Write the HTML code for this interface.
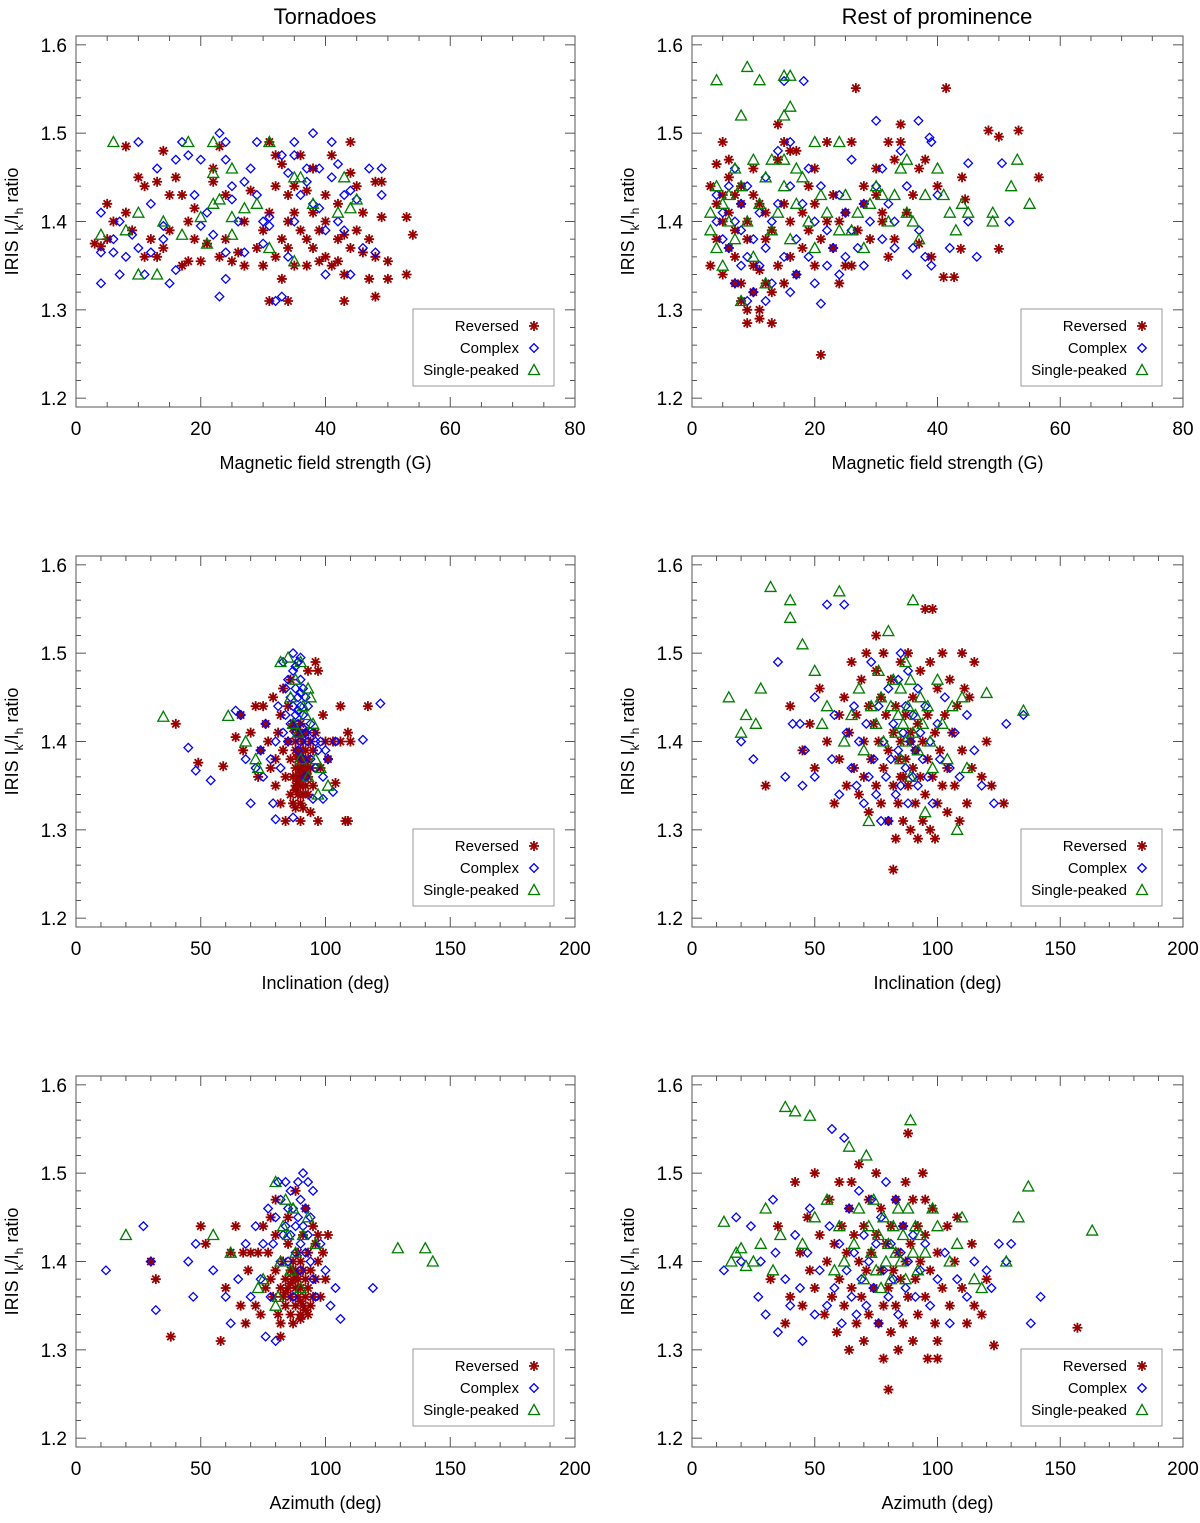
<!DOCTYPE html>
<html><head><meta charset="utf-8"><style>
html,body{margin:0;padding:0;background:#fff;}
svg{display:block;font-family:"Liberation Sans",Arial,sans-serif;}
</style></head><body>
<svg id="fig" width="1200" height="1523" viewBox="0 0 1200 1523" xmlns="http://www.w3.org/2000/svg">
<text x="325" y="24" font-size="22" text-anchor="middle">Tornadoes</text>
<text x="937" y="24" font-size="22" text-anchor="middle">Rest of prominence</text>
</svg>
<script>
const yTicks = [1.2,1.3,1.4,1.5,1.6];
const xTicksB = [0,20,40,60,80];
const xTicksA = [0,50,100,150,200];
const xTitles = ["Magnetic field strength (G)","Inclination (deg)","Azimuth (deg)"];
const legendLabels = ["Reversed","Complex","Single-peaked"];

const tBRev=[[3,1.375],[4,1.372],[5,1.38],[5,1.42],[6,1.40],[8,1.485],[8,1.41],[9,1.39],[10,1.45],[11,1.36],[11,1.44],[12,1.38],[13,1.445],[13,1.36],[14,1.48],[14,1.37],[15,1.43],[15,1.39],[16,1.45],[17,1.35],[17,1.43],[18,1.40],[18,1.355],[19,1.38],[19,1.415],[20,1.355],[21,1.375],[22,1.46],[22,1.445],[23,1.36],[23,1.485],[24,1.43],[24,1.38],[25,1.355],[26,1.365],[27,1.35],[27,1.40],[28,1.435],[29,1.37],[30,1.35],[30,1.39],[31,1.49],[31,1.31],[31,1.41],[32,1.475],[32,1.36],[32,1.44],[33,1.465],[33,1.38],[33,1.335],[34,1.43],[34,1.40],[34,1.37],[34,1.31],[35,1.44],[35,1.35],[35,1.41],[36,1.39],[36,1.475],[37,1.35],[37,1.435],[37,1.38],[38,1.37],[38,1.46],[38,1.41],[39,1.355],[39,1.39],[40,1.40],[40,1.36],[40,1.43],[41,1.475],[41,1.35],[42,1.38],[42,1.42],[42,1.355],[43,1.31],[43,1.34],[43,1.385],[44,1.49],[44,1.455],[44,1.37],[45,1.44],[45,1.39],[46,1.41],[46,1.365],[47,1.38],[47,1.335],[48,1.445],[48,1.36],[48,1.315],[49,1.405],[49,1.445],[50,1.355],[50,1.335],[53,1.405],[53,1.34],[54,1.385]];
const tBCom=[[4,1.41],[4,1.365],[4,1.33],[6,1.365],[6,1.38],[7,1.34],[7,1.40],[8,1.36],[9,1.385],[10,1.49],[10,1.37],[11,1.34],[12,1.42],[12,1.365],[13,1.46],[14,1.395],[14,1.38],[15,1.33],[16,1.47],[16,1.345],[17,1.49],[18,1.475],[19,1.43],[20,1.395],[20,1.47],[21,1.41],[22,1.385],[23,1.315],[23,1.50],[24,1.49],[24,1.47],[24,1.365],[24,1.335],[25,1.425],[25,1.44],[26,1.40],[27,1.445],[27,1.365],[28,1.46],[29,1.49],[29,1.43],[30,1.40],[30,1.375],[31,1.405],[31,1.395],[32,1.31],[33,1.315],[33,1.475],[34,1.455],[34,1.36],[35,1.49],[35,1.475],[35,1.40],[36,1.43],[37,1.46],[37,1.445],[38,1.50],[38,1.42],[39,1.46],[39,1.415],[40,1.34],[40,1.39],[41,1.49],[41,1.45],[42,1.465],[42,1.40],[43,1.43],[43,1.39],[44,1.435],[44,1.34],[45,1.425],[46,1.37],[47,1.46],[48,1.365],[49,1.46],[49,1.43]];
const tBSin=[[4,1.385],[6,1.49],[8,1.39],[10,1.41],[10,1.34],[13,1.34],[14,1.40],[17,1.385],[18,1.49],[20,1.405],[21,1.375],[22,1.49],[22,1.455],[22,1.42],[23,1.425],[25,1.46],[25,1.405],[25,1.385],[27,1.415],[29,1.42],[31,1.49],[31,1.37],[35,1.355],[35,1.45],[36,1.45],[38,1.42],[42,1.41],[43,1.45],[44,1.415],[45,1.425]];

const rBRev=[[3,1.35],[3,1.44],[4,1.465],[4,1.42],[4,1.38],[5,1.34],[5,1.43],[5,1.40],[6,1.47],[6,1.45],[6,1.41],[6,1.37],[7,1.33],[7,1.43],[7,1.39],[7,1.36],[8,1.31],[8,1.44],[8,1.42],[8,1.33],[9,1.30],[9,1.40],[9,1.38],[9,1.285],[10,1.46],[10,1.43],[10,1.35],[10,1.32],[11,1.30],[11,1.29],[11,1.42],[11,1.345],[12,1.41],[12,1.38],[12,1.33],[13,1.285],[13,1.39],[13,1.32],[14,1.51],[14,1.35],[15,1.42],[15,1.33],[15,1.49],[16,1.48],[16,1.40],[16,1.36],[17,1.48],[17,1.34],[18,1.41],[18,1.37],[19,1.44],[19,1.39],[20,1.35],[20,1.42],[21,1.249],[21,1.38],[22,1.40],[22,1.49],[23,1.37],[23,1.43],[24,1.40],[24,1.33],[25,1.35],[25,1.41],[26.7,1.551],[26,1.49],[26,1.35],[27,1.39],[28,1.42],[28,1.44],[29,1.38],[30,1.43],[30,1.46],[31,1.41],[31,1.40],[32,1.49],[32,1.36],[33,1.38],[33,1.47],[34,1.49],[34,1.51],[35,1.41],[36,1.43],[37,1.46],[38,1.47],[39,1.36],[40,1.44],[41.4,1.551],[41,1.337],[42.7,1.337],[43.8,1.369],[44,1.45],[44.5,1.425],[48.3,1.503],[50,1.496],[50,1.369],[53.2,1.503],[56.5,1.45],[37,1.375],[20,1.46],[14,1.47],[5,1.49]];
const rBCom=[[4,1.43],[4,1.40],[5,1.38],[5,1.41],[6,1.37],[6,1.44],[7,1.33],[7,1.46],[7,1.40],[8,1.35],[8,1.39],[8,1.42],[9,1.31],[9,1.36],[9,1.44],[10,1.38],[10,1.32],[11,1.41],[11,1.35],[12,1.45],[12,1.37],[12,1.31],[13,1.33],[13,1.40],[14,1.48],[14,1.42],[15,1.36],[15,1.559],[16,1.49],[16,1.44],[16,1.32],[17,1.38],[17,1.34],[18.2,1.559],[18,1.42],[19,1.46],[19,1.36],[20,1.40],[20,1.33],[21,1.307],[21,1.44],[22,1.39],[22,1.35],[23,1.37],[24,1.43],[24,1.34],[25,1.41],[25,1.36],[26,1.47],[26,1.39],[27,1.37],[28,1.42],[28,1.35],[29,1.40],[30,1.514],[30,1.44],[31,1.38],[31,1.46],[32,1.42],[33,1.37],[33,1.40],[34,1.48],[35,1.34],[35,1.44],[36,1.37],[36.9,1.514],[37,1.39],[38.7,1.495],[38,1.36],[39,1.49],[39,1.35],[40,1.43],[42,1.37],[45,1.466],[46.4,1.36],[50.5,1.466],[51.7,1.40],[45,1.40]];
const rBSin=[[4,1.56],[9,1.575],[11,1.56],[15,1.565],[16,1.565],[16,1.53],[8,1.52],[15,1.52],[3,1.39],[3,1.41],[4,1.44],[4,1.37],[5,1.42],[5,1.35],[6,1.43],[6,1.40],[7,1.46],[7,1.38],[8,1.31],[8,1.44],[9,1.40],[10,1.47],[10,1.36],[11,1.42],[12,1.45],[12,1.33],[13,1.47],[13,1.39],[14,1.41],[15,1.47],[15,1.44],[16,1.38],[17,1.46],[17,1.42],[18,1.45],[19,1.40],[20,1.49],[20,1.37],[21,1.43],[22,1.41],[24,1.49],[24,1.39],[25,1.43],[26,1.39],[27,1.41],[28,1.37],[29,1.42],[30,1.44],[31,1.43],[32,1.40],[33,1.43],[34,1.46],[35,1.47],[35,1.41],[36,1.40],[37,1.38],[38,1.43],[40,1.46],[41,1.43],[42,1.41],[43,1.39],[44,1.42],[45,1.41],[49,1.41],[49,1.40],[52,1.44],[53,1.47],[55,1.42]];

const tIRev=[[40,1.42],[49,1.376],[59,1.372],[64,1.405],[66,1.43],[67,1.39],[70,1.41],[72,1.44],[73,1.36],[74,1.39],[75,1.44],[76,1.42],[77,1.40],[78,1.37],[79,1.45],[80,1.35],[80,1.38],[81,1.41],[82,1.43],[82,1.33],[83,1.46],[83,1.39],[84,1.31],[84,1.36],[85,1.44],[85,1.40],[86,1.34],[86,1.38],[86,1.47],[87,1.42],[87,1.36],[87,1.33],[88,1.39],[88,1.35],[88,1.40],[88,1.37],[89,1.41],[89,1.34],[89,1.38],[89,1.36],[90,1.35],[90,1.39],[90,1.42],[90,1.37],[90,1.33],[91,1.36],[91,1.40],[91,1.38],[91,1.34],[92,1.37],[92,1.35],[92,1.39],[92,1.41],[93,1.36],[93,1.38],[93,1.34],[94,1.40],[94,1.37],[94,1.32],[95,1.39],[95,1.35],[96,1.41],[96,1.49],[97,1.31],[97,1.48],[98,1.37],[99,1.43],[100,1.40],[101,1.38],[103,1.40],[104,1.353],[106,1.44],[106,1.40],[108,1.31],[109,1.41],[109,1.31],[110,1.40],[117,1.44],[93,1.48],[90,1.31],[88,1.345],[89,1.355],[90,1.365],[91,1.375],[89,1.385],[92,1.365],[88,1.325],[91,1.325],[90,1.405],[87,1.415]];
const tICom=[[45,1.393],[48,1.367],[54,1.356],[64,1.435],[66,1.43],[68,1.38],[70,1.33],[72,1.37],[74,1.39],[75,1.36],[76,1.42],[78,1.38],[79,1.33],[80,1.312],[80,1.40],[81,1.44],[82,1.37],[83,1.41],[83,1.49],[84,1.46],[84,1.43],[85,1.47],[85,1.40],[86,1.45],[86,1.42],[87,1.50],[87,1.48],[87,1.314],[87,1.44],[88,1.46],[88,1.43],[88,1.41],[89,1.49],[89,1.45],[89,1.42],[89,1.39],[90,1.47],[90,1.44],[90,1.40],[91,1.46],[91,1.43],[91,1.38],[92,1.45],[92,1.41],[92,1.36],[93,1.44],[93,1.40],[94,1.42],[94,1.38],[95,1.335],[95,1.41],[96,1.40],[96,1.37],[97,1.39],[98,1.40],[99,1.335],[99,1.36],[100,1.39],[101,1.38],[103,1.343],[104,1.40],[115,1.402],[122,1.443],[88,1.485],[90,1.455],[89,1.435],[91,1.415],[90,1.495]];
const tISin=[[35,1.428],[61,1.429],[68,1.40],[72,1.38],[73,1.37],[82,1.49],[85,1.495],[86,1.45],[87,1.42],[88,1.47],[89,1.41],[90,1.49],[90,1.38],[91,1.44],[92,1.43],[93,1.46],[93,1.36],[94,1.45],[95,1.42],[96,1.38],[98,1.37],[101,1.35],[97,1.34]];

const rIRev=[[30,1.35],[40,1.44],[45,1.39],[48,1.42],[50,1.37],[52,1.46],[55,1.40],[58,1.33],[60,1.43],[60,1.38],[62,1.45],[63,1.35],[64,1.41],[65,1.49],[66,1.37],[67,1.43],[68,1.34],[69,1.47],[70,1.40],[70,1.36],[71,1.50],[72,1.44],[72,1.32],[73,1.38],[74,1.42],[75,1.35],[75,1.48],[76,1.40],[77,1.33],[77,1.45],[78,1.37],[79,1.43],[80,1.31],[80,1.39],[81,1.47],[82,1.35],[82,1.41],[83,1.29],[83,1.44],[84,1.38],[84,1.33],[85,1.49],[85,1.40],[86,1.36],[86,1.31],[87,1.43],[87,1.38],[88,1.35],[88,1.50],[89,1.41],[89,1.30],[90,1.37],[90,1.45],[91,1.33],[91,1.39],[92,1.42],[92,1.29],[93,1.36],[93,1.48],[94,1.31],[94,1.40],[95,1.55],[95,1.34],[96,1.43],[96,1.38],[97,1.30],[97,1.49],[98,1.55],[98,1.36],[99,1.41],[99,1.29],[100,1.33],[100,1.46],[101,1.39],[102,1.35],[102,1.50],[103,1.43],[104,1.32],[104,1.37],[105,1.47],[106,1.41],[107,1.35],[108,1.44],[109,1.31],[110,1.39],[111,1.46],[112,1.33],[113,1.45],[114,1.37],[115,1.49],[118,1.36],[120,1.40],[122,1.35],[127,1.33],[110,1.50],[82,1.255],[89,1.40],[85,1.36],[75,1.52],[78,1.50]];
const rICom=[[20,1.40],[25,1.38],[35,1.49],[38,1.36],[41,1.42],[44,1.42],[45,1.35],[46,1.39],[50,1.36],[50,1.45],[55,1.555],[57,1.38],[58,1.43],[60,1.34],[62,1.555],[63,1.41],[65,1.37],[66,1.44],[67,1.35],[68,1.40],[70,1.33],[71,1.42],[72,1.36],[73,1.49],[74,1.38],[75,1.34],[76,1.44],[77,1.31],[78,1.40],[79,1.36],[80,1.31],[80,1.46],[81,1.38],[82,1.42],[83,1.34],[84,1.47],[84,1.39],[85,1.50],[85,1.35],[86,1.41],[87,1.37],[87,1.44],[88,1.33],[88,1.48],[89,1.40],[90,1.36],[90,1.43],[91,1.39],[92,1.46],[92,1.35],[93,1.41],[94,1.38],[95,1.44],[96,1.36],[97,1.40],[98,1.33],[100,1.42],[101,1.38],[103,1.45],[105,1.37],[107,1.41],[109,1.36],[112,1.43],[115,1.39],[118,1.35],[123,1.33],[128,1.42],[135,1.43]];
const rISin=[[15,1.45],[20,1.41],[22,1.43],[26,1.42],[28,1.46],[32,1.575],[40,1.56],[40,1.54],[45,1.51],[50,1.48],[53,1.42],[55,1.44],[60,1.57],[62,1.40],[65,1.43],[68,1.46],[70,1.39],[72,1.31],[73,1.44],[75,1.42],[76,1.48],[77,1.45],[78,1.40],[80,1.525],[81,1.44],[82,1.47],[83,1.41],[84,1.43],[85,1.38],[85,1.46],[86,1.42],[87,1.49],[87,1.40],[88,1.44],[89,1.36],[89,1.47],[90,1.41],[90,1.56],[91,1.43],[92,1.39],[93,1.45],[94,1.42],[95,1.32],[96,1.44],[97,1.40],[98,1.37],[100,1.47],[102,1.42],[104,1.38],[106,1.44],[110,1.45],[120,1.455],[135,1.435],[108,1.30],[112,1.37]];

const tARev=[[30,1.40],[32,1.38],[38,1.315],[50,1.44],[52,1.42],[58,1.31],[60,1.37],[62,1.41],[64,1.44],[66,1.35],[67,1.41],[68,1.33],[69,1.39],[70,1.41],[72,1.35],[73,1.41],[74,1.34],[75,1.44],[76,1.37],[77,1.41],[78,1.38],[78,1.45],[79,1.36],[80,1.43],[80,1.39],[81,1.34],[82,1.315],[82,1.37],[83,1.40],[83,1.36],[84,1.38],[84,1.35],[85,1.42],[85,1.37],[86,1.39],[86,1.34],[86,1.36],[87,1.38],[87,1.40],[87,1.33],[88,1.37],[88,1.35],[88,1.39],[89,1.36],[89,1.41],[89,1.38],[90,1.34],[90,1.37],[90,1.40],[91,1.35],[91,1.39],[91,1.43],[92,1.36],[92,1.38],[92,1.46],[93,1.37],[93,1.41],[94,1.35],[94,1.39],[95,1.44],[95,1.36],[96,1.42],[96,1.38],[97,1.40],[97,1.43],[98,1.36],[99,1.41],[100,1.38],[101,1.43],[88,1.48],[85,1.45],[80,1.47],[82,1.33],[90,1.335],[93,1.34],[86,1.375],[88,1.385],[90,1.355],[92,1.345],[84,1.365]];
const tACom=[[12,1.39],[27,1.44],[30,1.40],[32,1.345],[45,1.40],[47,1.36],[48,1.42],[55,1.39],[60,1.36],[62,1.33],[65,1.38],[68,1.42],[70,1.36],[72,1.44],[74,1.38],[75,1.42],[76,1.315],[77,1.46],[78,1.36],[79,1.42],[80,1.31],[80,1.45],[81,1.49],[82,1.40],[82,1.47],[83,1.43],[84,1.49],[84,1.44],[85,1.46],[85,1.40],[86,1.48],[86,1.43],[87,1.46],[87,1.36],[88,1.44],[88,1.41],[89,1.49],[89,1.45],[90,1.47],[90,1.42],[90,1.39],[91,1.50],[91,1.44],[92,1.46],[92,1.41],[93,1.49],[93,1.43],[94,1.45],[94,1.40],[95,1.48],[95,1.38],[96,1.36],[98,1.42],[100,1.39],[102,1.35],[104,1.37],[106,1.335],[119,1.37]];
const tASin=[[20,1.43],[55,1.43],[62,1.41],[73,1.37],[75,1.38],[80,1.49],[81,1.36],[82,1.40],[83,1.44],[84,1.47],[85,1.43],[86,1.39],[87,1.46],[88,1.41],[90,1.37],[91,1.43],[93,1.45],[96,1.42],[129,1.415],[140,1.415],[143,1.40],[80,1.35]];

const rARev=[[32,1.38],[35,1.44],[38,1.33],[40,1.36],[42,1.49],[44,1.41],[45,1.35],[47,1.45],[48,1.39],[50,1.50],[50,1.37],[52,1.43],[54,1.34],[55,1.40],[56,1.47],[57,1.36],[58,1.42],[59,1.32],[60,1.38],[60,1.49],[61,1.44],[62,1.35],[63,1.41],[64,1.30],[64,1.46],[65,1.37],[66,1.43],[67,1.33],[68,1.40],[68,1.51],[69,1.36],[70,1.44],[70,1.31],[71,1.39],[72,1.47],[72,1.34],[73,1.41],[74,1.37],[75,1.50],[75,1.43],[76,1.33],[77,1.39],[77,1.46],[78,1.35],[78,1.29],[79,1.42],[80,1.37],[80,1.255],[81,1.44],[81,1.32],[82,1.39],[83,1.47],[83,1.35],[84,1.41],[84,1.30],[85,1.38],[86,1.44],[86,1.33],[87,1.49],[87,1.40],[88,1.36],[88,1.545],[89,1.42],[90,1.31],[90,1.47],[91,1.38],[92,1.44],[92,1.34],[93,1.40],[94,1.50],[95,1.36],[95,1.43],[96,1.29],[97,1.39],[98,1.46],[99,1.33],[100,1.41],[100,1.31],[102,1.37],[104,1.44],[105,1.35],[107,1.40],[108,1.45],[110,1.37],[112,1.33],[114,1.42],[115,1.35],[118,1.34],[120,1.38],[123,1.305],[157,1.325],[100,1.29],[95,1.47],[65,1.49]];
const rACom=[[13,1.39],[18,1.45],[20,1.40],[24,1.44],[27,1.36],[28,1.40],[30,1.34],[33,1.47],[34,1.41],[35,1.32],[38,1.38],[40,1.35],[42,1.43],[44,1.37],[45,1.31],[47,1.41],[48,1.46],[50,1.34],[52,1.39],[55,1.35],[56,1.44],[57,1.55],[58,1.37],[60,1.42],[61,1.33],[62,1.54],[63,1.39],[64,1.46],[65,1.36],[66,1.41],[67,1.34],[68,1.48],[69,1.38],[70,1.43],[71,1.35],[72,1.40],[73,1.47],[74,1.37],[75,1.42],[76,1.33],[77,1.45],[78,1.39],[79,1.49],[80,1.36],[81,1.42],[82,1.38],[83,1.47],[84,1.34],[85,1.41],[86,1.44],[87,1.37],[88,1.40],[90,1.43],[91,1.36],[93,1.39],[95,1.42],[97,1.35],[100,1.38],[103,1.41],[105,1.33],[108,1.38],[112,1.36],[115,1.40],[120,1.39],[125,1.42],[128,1.40],[130,1.42],[142,1.36],[138,1.33],[122,1.37]];
const rASin=[[13,1.445],[16,1.40],[18,1.41],[20,1.415],[22,1.395],[25,1.40],[28,1.42],[30,1.46],[33,1.39],[36,1.43],[38,1.575],[42,1.57],[45,1.42],[48,1.565],[50,1.45],[55,1.47],[58,1.39],[60,1.44],[62,1.40],[64,1.53],[66,1.42],[68,1.46],[70,1.38],[71,1.52],[72,1.44],[73,1.41],[74,1.47],[75,1.39],[76,1.43],[77,1.37],[78,1.45],[79,1.40],[80,1.42],[81,1.38],[82,1.44],[83,1.41],[84,1.46],[85,1.40],[86,1.43],[87,1.38],[88,1.46],[89,1.56],[90,1.41],[91,1.44],[92,1.39],[93,1.43],[95,1.41],[98,1.46],[100,1.44],[105,1.40],[108,1.42],[110,1.45],[115,1.38],[118,1.37],[128,1.40],[133,1.45],[137,1.485],[163,1.435]];

const NS="http://www.w3.org/2000/svg";
const svg=document.getElementById('fig');
function mk(tag,attrs,parent){const e=document.createElementNS(NS,tag);for(const k in attrs)e.setAttribute(k,attrs[k]);(parent||svg).appendChild(e);return e;}
const YMIN=1.19,YMAX=1.61;
const panels=[
 {id:'tornado-field',L:76,R:575,row:0,xt:xTicksB,xmax:80,minor:5,title:0,data:[tBRev,tBCom,tBSin]},
 {id:'rest-field',L:692,R:1183,row:0,xt:xTicksB,xmax:80,minor:5,title:0,data:[rBRev,rBCom,rBSin]},
 {id:'tornado-inclination',L:76,R:575,row:1,xt:xTicksA,xmax:200,minor:10,title:1,data:[tIRev,tICom,tISin]},
 {id:'rest-inclination',L:692,R:1183,row:1,xt:xTicksA,xmax:200,minor:10,title:1,data:[rIRev,rICom,rISin]},
 {id:'tornado-azimuth',L:76,R:575,row:2,xt:xTicksA,xmax:200,minor:10,title:2,data:[tARev,tACom,tASin]},
 {id:'rest-azimuth',L:692,R:1183,row:2,xt:xTicksA,xmax:200,minor:10,title:2,data:[rARev,rACom,rASin]}
];
const colors=['#990000','#0000ff','#007f00'];
function marker(k,x,y,g){
 let e;
 if(k===0){e=mk('path',{d:`M${x-5},${y}H${x+5}M${x},${y-5}V${y+5}M${x-3.6},${y-3.6}L${x+3.6},${y+3.6}M${x-3.6},${y+3.6}L${x+3.6},${y-3.6}`,stroke:colors[0],'stroke-width':1.8,fill:'none'},g);}
 else if(k===1){e=mk('path',{d:`M${x},${y-4.3}L${x+4.3},${y}L${x},${y+4.3}L${x-4.3},${y}Z`,stroke:colors[1],'stroke-width':1.3,fill:'none'},g);}
 else {e=mk('path',{d:`M${x},${y-5.5}L${x+5.5},${y+4.5}L${x-5.5},${y+4.5}Z`,stroke:colors[2],'stroke-width':1.3,fill:'none'},g);}
 return e;
}
const names=['reversed','complex','single-peaked'];
panels.forEach(p=>{
 const T=36+p.row*520,B=407+p.row*520;
 const sx=v=>p.L+(v/p.xmax)*(p.R-p.L);
 const sy=v=>B-(v-YMIN)/(YMAX-YMIN)*(B-T);
 const g=mk('g',{});
 
 
 const fr=mk('rect',{x:p.L,y:T,width:p.R-p.L,height:B-T,fill:'none',stroke:'#555','stroke-width':1},g);
 
 
 for(let v=0;v<=p.xmax+1e-9;v+=p.minor){
  const X=sx(v);const major=p.xt.some(t=>Math.abs(t-v)<1e-6);const len=major?10:5;
  mk('line',{x1:X,x2:X,y1:B,y2:B-len,stroke:'#555'},g);
  mk('line',{x1:X,x2:X,y1:T,y2:T+len,stroke:'#555'},g);
 }
 for(let v=1.2;v<=1.6001;v+=0.02){
  const Y=sy(v);const major=yTicks.some(t=>Math.abs(t-v)<1e-6);const len=major?10:5;
  mk('line',{x1:p.L,x2:p.L+len,y1:Y,y2:Y,stroke:'#555'},g);
  mk('line',{x1:p.R,x2:p.R-len,y1:Y,y2:Y,stroke:'#555'},g);
 }
 p.xt.forEach(t=>{const e=mk('text',{x:sx(t),y:B+28,'font-size':19,'text-anchor':'middle'},g);e.textContent=t;
  
  });
 yTicks.forEach(t=>{const e=mk('text',{x:p.L-9,y:sy(t)+7,'font-size':19,'text-anchor':'end'},g);e.textContent=t.toFixed(1);
  
  });
 const xt=mk('text',{x:(p.L+p.R)/2,y:B+62,'font-size':18,'text-anchor':'middle'},g);xt.textContent=xTitles[p.title];
 
 
 const yx=p.L-58,yy=(T+B)/2;
 const yt=mk('text',{x:yx,y:yy,'font-size':18,'text-anchor':'middle',transform:`rotate(-90 ${yx} ${yy})`},g);
 yt.innerHTML='IRIS I<tspan font-size="12" dy="5">k</tspan><tspan dy="-5">/I</tspan><tspan font-size="12" dy="5">h</tspan><tspan dy="-5"> ratio</tspan>';
 
 
 [0,1,2].forEach(k=>{
  const sg=mk('g',{},g);
  
  
  p.data[k].forEach(d=>{const m=marker(k,sx(d[0]),sy(d[1]),sg);
   
   });
 });
 const lg=mk('g',{},g);
 
 
 const lr=p.R-21,lt=T+273;
 mk('rect',{x:lr-141,y:lt,width:141,height:77,fill:'#fff',stroke:'#999'},lg);
 legendLabels.forEach((s,i)=>{const yy2=lt+17+i*22;
  const e=mk('text',{x:lr-35,y:yy2+5,'font-size':15,'text-anchor':'end'},lg);e.textContent=s;
  
  
  marker(i,lr-20,yy2,lg);});
});
</script>
</body></html>
